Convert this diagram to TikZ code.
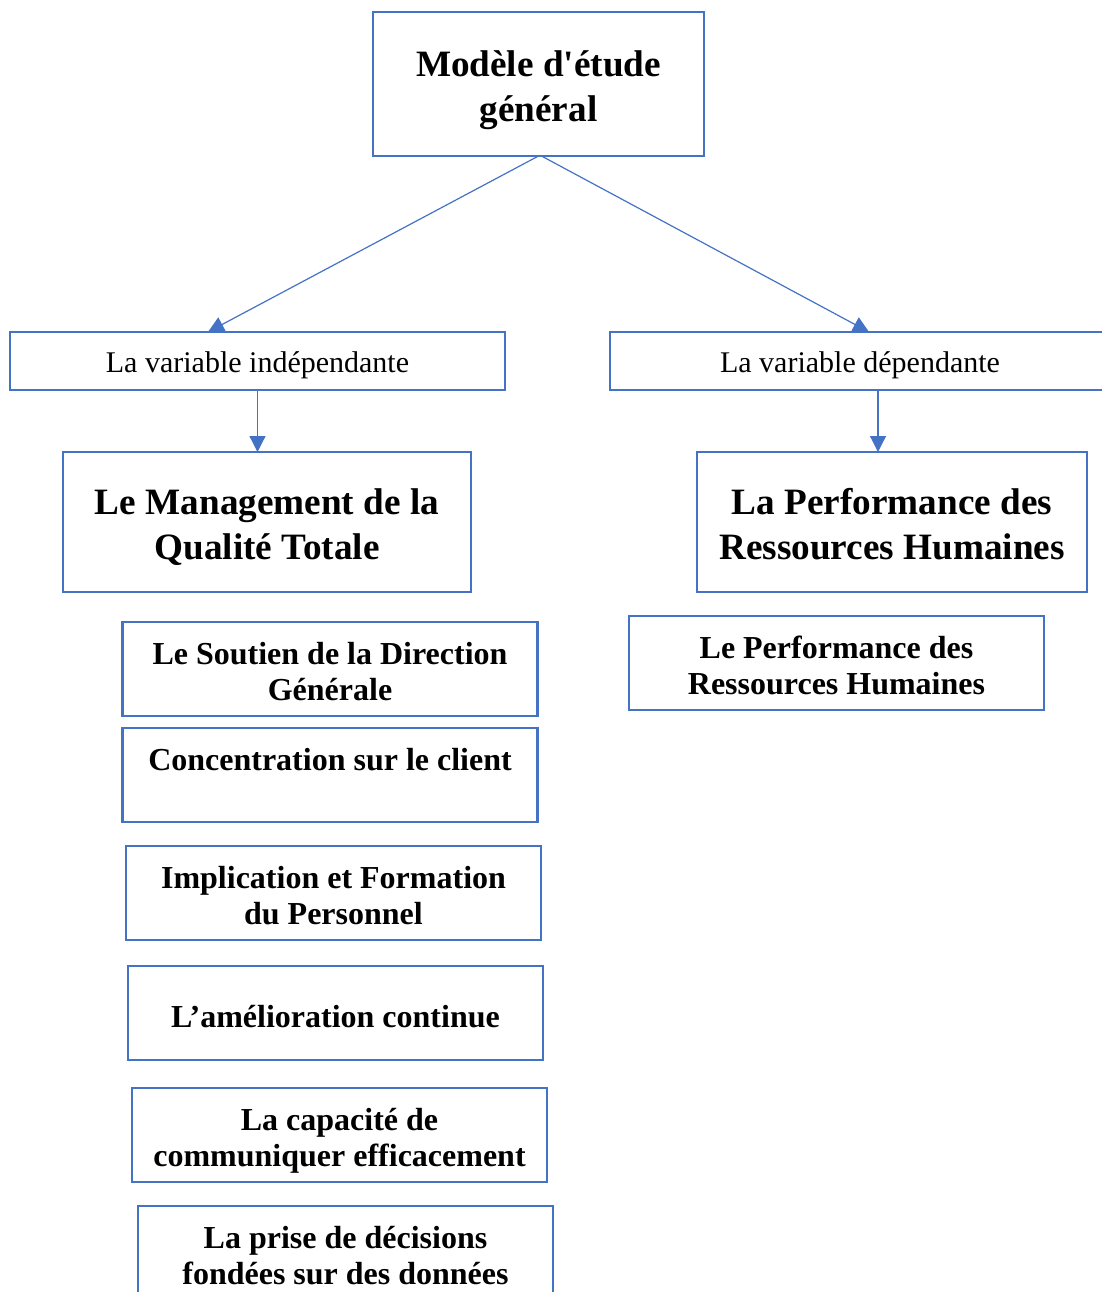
\documentclass[tikz,border=0pt]{standalone}
\usepackage{fontspec}
\setmainfont{Liberation Serif}
\usepackage{tikz}
\usepackage{xcolor}
\usetikzlibrary{arrows.meta,positioning}
\definecolor{boxblue}{RGB}{68,114,196}

\begin{document}
\begin{tikzpicture}[x=0.5pt, y=-0.5pt,
        box/.style={draw=boxblue, line width=1.3pt, fill=white, outer sep=0pt, inner sep=2pt, align=center},
        bigbox/.style={box, font=\bfseries\fontsize{18.6}{22.5}\selectfont, text height=37pt, text depth=0pt},
        varbox/.style={box, font=\fontsize{15}{18}\selectfont, text height=14.5pt},
        subbox/.style={box, font=\bfseries\fontsize{16}{18}\selectfont, minimum width=207.5pt, minimum height=47pt, text height=31pt, text depth=0pt},
        link/.style={draw=boxblue, line width=0.6pt, -{Triangle[length=8pt,width=8pt]}}]

        \clip (0,0) rectangle (1102,1292);
        \fill[white] (0,0) rectangle (1102,1292);

        \node[bigbox, minimum width=165.5pt, minimum height=72pt] (modele) at (538.5,84) {Modèle d\textquotesingle étude\\général};

        \node[varbox, minimum width=247.5pt, minimum height=29pt] (indep) at (257.5,361) {La variable indépendante};
        \node[varbox, minimum width=250pt, minimum height=29pt] (dep) at (860,361) {La variable dépendante};

        \node[bigbox, minimum width=204pt, minimum height=70pt] (mqt) at (267,522) {Le Management de la\\Qualité Totale};
        \node[bigbox, minimum width=195pt, minimum height=70pt] (prh) at (892,522) {La Performance des\\Ressources Humaines};

        \node[subbox] (soutien) at (330,669) {Le Soutien de la Direction\\Générale};
        \node[subbox] (client) at (330,775) {Concentration sur le client\\\mbox{}};
        \node[subbox] (formation) at (333.5,893) {Implication et Formation\\du Personnel};
        \node[subbox, text height=14.5pt] (amelioration) at (335.5,1013) {L’amélioration continue};
        \node[subbox] (communication) at (339.5,1135) {La capacité de\\communiquer efficacement};
        \node[subbox] (decisions) at (345.5,1253) {La prise de décisions\\fondées sur des données};

        \node[subbox] (leperf) at (836.5,663) {Le Performance des\\Ressources Humaines};

        \draw[link] (modele.south) -- ([xshift=-24.75pt]indep.north);
        \draw[link] ([xshift=1.5pt]modele.south) -- ([xshift=4.5pt]dep.north);
        \draw[link] (indep.south) -- (indep.south |- mqt.north);
        \draw[link] ([xshift=9pt]dep.south) -- ([xshift=9pt]dep.south |- prh.north);

\end{tikzpicture}
\end{document}
